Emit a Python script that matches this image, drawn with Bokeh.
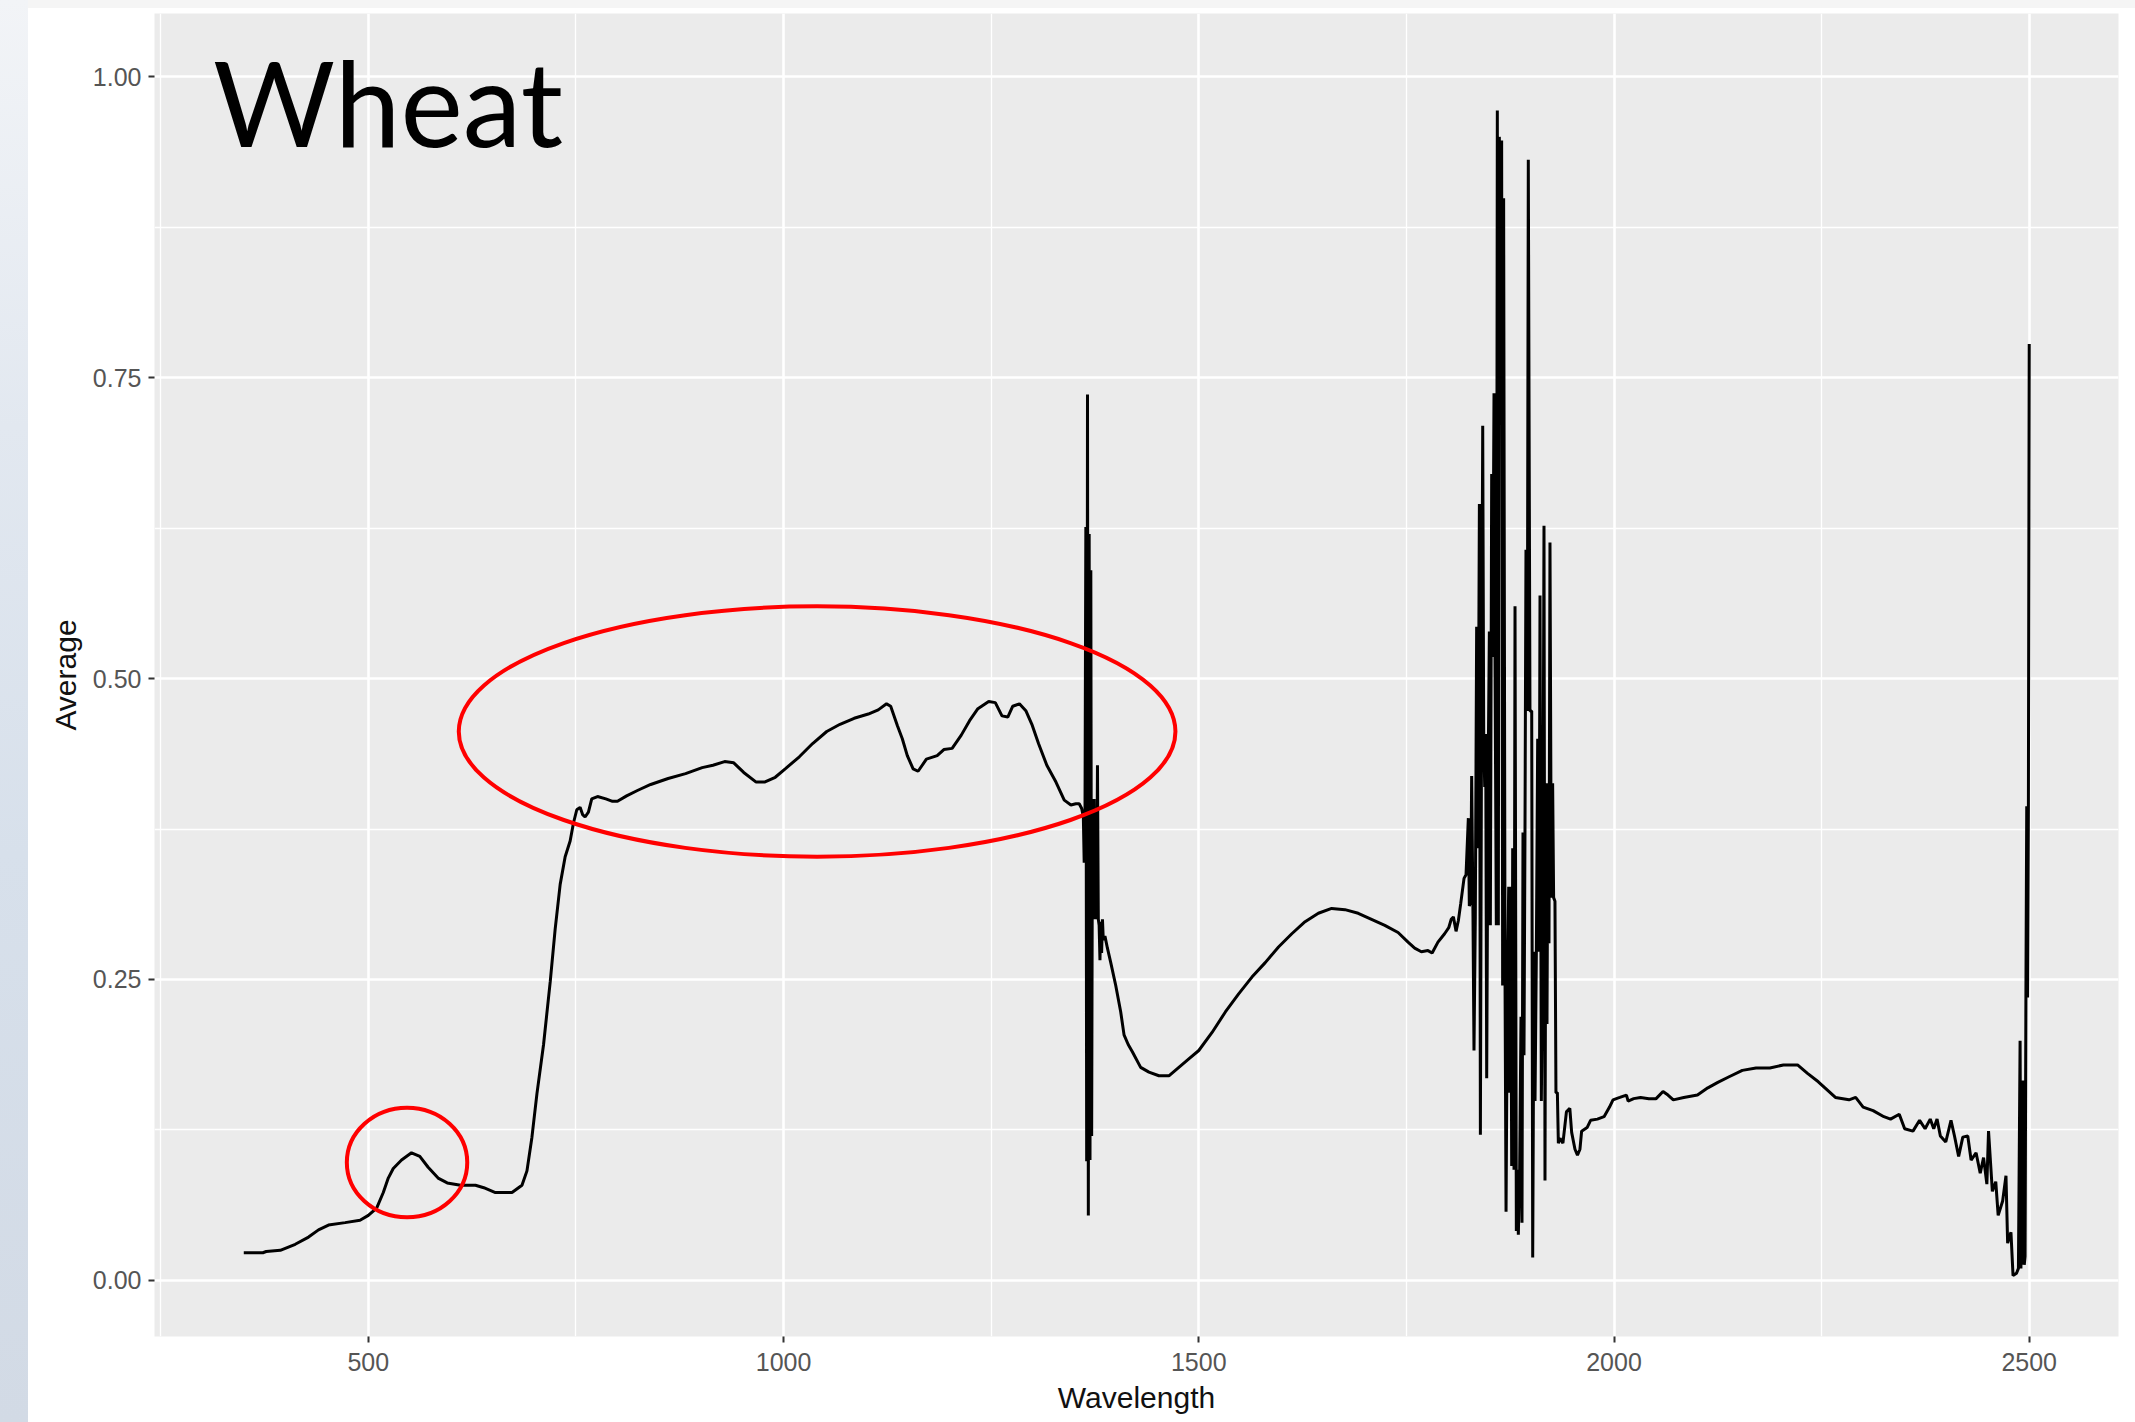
from bokeh.plotting import figure
from bokeh.models import FixedTicker, Range1d, Label, Div
from bokeh.layouts import row, column
from bokeh.embed import file_html
from bokeh.resources import INLINE

# ---------------- data ----------------
WAVELENGTH = [
    350, 373, 377, 394, 412, 428, 440, 452, 472, 490, 500, 510, 518, 524, 530, 540,
    552, 562, 572, 584, 595, 611, 629, 639, 653, 673, 685, 691, 697, 703, 711, 719,
    725, 731, 737, 743, 747, 751, 755, 758, 761, 765, 769, 776, 786, 794, 800, 811,
    824, 840, 861, 882, 902, 915, 929, 940, 952, 967, 977, 990, 1002, 1019, 1035, 1052,
    1068, 1085, 1102, 1114, 1124, 1129, 1137, 1143, 1149, 1156, 1162, 1172, 1185, 1193, 1203, 1214,
    1224, 1234, 1247, 1255, 1263, 1270, 1276, 1284, 1292, 1299, 1307, 1317, 1328, 1338, 1346, 1352,
    1356, 1359, 1361, 1362, 1363, 1364, 1365, 1366, 1367, 1368, 1369, 1370, 1371, 1372, 1373, 1374,
    1375, 1376, 1377, 1378, 1379, 1380, 1381, 1382, 1383, 1384, 1385, 1387, 1390, 1394, 1400, 1406,
    1410, 1415, 1420, 1430, 1440, 1452, 1464, 1476, 1488, 1500, 1516, 1532, 1548, 1564, 1580, 1596,
    1612, 1628, 1644, 1660, 1676, 1692, 1708, 1724, 1740, 1752, 1760, 1768, 1776, 1781, 1788, 1796,
    1801, 1804, 1806.6, 1809.8, 1812.6, 1815.4, 1819.4, 1821.8, 1824.6, 1825.8, 1827.4, 1828.6, 1830.2, 1831.4, 1833.0, 1834.6,
    1836.2, 1837.9, 1839.1, 1840.3, 1841.9, 1843.1, 1844.3, 1845.5, 1846.7, 1848.3, 1849.9, 1851.1, 1852.7, 1853.9, 1855.5, 1856.7,
    1858.3, 1859.5, 1860.7, 1861.9, 1863.1, 1864.7, 1865.9, 1867.1, 1868.8, 1870.0, 1871.6, 1873.2, 1874.4, 1875.6, 1876.8, 1878.0,
    1879.6, 1880.8, 1882.4, 1883.6, 1884.8, 1886.4, 1888.0, 1889.2, 1890.4, 1891.6, 1892.8, 1894.0, 1895.6, 1896.8, 1898.8, 1900.9,
    1902.1, 1903.7, 1904.9, 1906.5, 1908.1, 1909.7, 1910.9, 1912.5, 1914.1, 1915.7, 1916.9, 1918.1, 1919.3, 1920.5, 1921.7, 1922.9,
    1924.5, 1926.1, 1927.3, 1928.9, 1930.1, 1931.8, 1933.0, 1935, 1938.5, 1942.7, 1946.8, 1949, 1953, 1956, 1959, 1961,
    1967.6, 1971.8, 1980, 1988, 1994.6, 1998.8, 2007, 2015, 2017, 2023.7, 2032, 2042, 2050.7, 2059, 2065, 2071.4,
    2084, 2100.5, 2113, 2125, 2138, 2154.5, 2171, 2187.7, 2204, 2221, 2233, 2246, 2254, 2266.6, 2283, 2291,
    2300, 2312, 2325, 2333, 2343.5, 2350, 2360, 2368, 2374.6, 2380.8, 2385, 2389, 2393, 2399.5, 2405.8, 2410,
    2415, 2420, 2426, 2430, 2436, 2441, 2445, 2449, 2451, 2455.6, 2459.7, 2462.6, 2468, 2472, 2474, 2478,
    2480.5, 2484.7, 2487, 2489, 2490, 2491, 2492, 2493, 2494, 2495, 2496, 2497, 2498, 2499, 2500,
]
AVERAGE = [
    0.023, 0.023, 0.024, 0.025, 0.030, 0.036, 0.042, 0.046, 0.048, 0.050, 0.054, 0.060, 0.073, 0.085, 0.093, 0.100,
    0.106, 0.103, 0.094, 0.085, 0.081, 0.079, 0.079, 0.077, 0.073, 0.073, 0.079, 0.091, 0.119, 0.155, 0.196, 0.248,
    0.292, 0.329, 0.352, 0.365, 0.380, 0.391, 0.393, 0.387, 0.385, 0.389, 0.400, 0.402, 0.400, 0.398, 0.398, 0.4025,
    0.407, 0.412, 0.417, 0.421, 0.426, 0.428, 0.431, 0.430, 0.422, 0.414, 0.414, 0.418, 0.425, 0.435, 0.446, 0.456,
    0.462, 0.467, 0.4705, 0.474, 0.479, 0.477, 0.461, 0.450, 0.436, 0.425, 0.423, 0.433, 0.436, 0.441, 0.442, 0.453,
    0.465, 0.475, 0.481, 0.480, 0.469, 0.468, 0.477, 0.479, 0.473, 0.462, 0.446, 0.428, 0.414, 0.399, 0.395, 0.396,
    0.396, 0.392, 0.385, 0.347, 0.392, 0.626, 0.099, 0.736, 0.054, 0.620, 0.100, 0.590, 0.120, 0.400, 0.350, 0.400,
    0.300, 0.390, 0.300, 0.428, 0.300, 0.295, 0.266, 0.298, 0.272, 0.300, 0.283, 0.286, 0.276, 0.264, 0.245, 0.223,
    0.204, 0.196, 0.190, 0.177, 0.173, 0.170, 0.170, 0.177, 0.184, 0.191, 0.206, 0.223, 0.238, 0.252, 0.264, 0.277,
    0.288, 0.298, 0.305, 0.309, 0.308, 0.305, 0.300, 0.295, 0.289, 0.281, 0.276, 0.273, 0.274, 0.272, 0.281, 0.288,
    0.293, 0.300, 0.302, 0.290, 0.299, 0.313, 0.334, 0.337, 0.384, 0.311, 0.315, 0.419, 0.302, 0.191, 0.302, 0.543,
    0.359, 0.645, 0.121, 0.416, 0.710, 0.454, 0.410, 0.454, 0.168, 0.410, 0.539, 0.295, 0.670, 0.518, 0.737, 0.518,
    0.295, 0.972, 0.295, 0.950, 0.899, 0.947, 0.245, 0.899, 0.245, 0.057, 0.245, 0.327, 0.156, 0.327, 0.095, 0.359,
    0.092, 0.560, 0.041, 0.092, 0.038, 0.092, 0.219, 0.048, 0.372, 0.187, 0.372, 0.607, 0.473, 0.931, 0.473, 0.473,
    0.019, 0.273, 0.149, 0.273, 0.450, 0.273, 0.569, 0.149, 0.276, 0.627, 0.083, 0.413, 0.213, 0.413, 0.280, 0.613,
    0.318, 0.413, 0.318, 0.315, 0.156, 0.156, 0.114, 0.118, 0.114, 0.140, 0.143, 0.123, 0.109, 0.104, 0.109, 0.124,
    0.127, 0.133, 0.134, 0.136, 0.144, 0.150, 0.152, 0.154, 0.149, 0.151, 0.152, 0.151, 0.151, 0.157, 0.154, 0.150,
    0.152, 0.154, 0.160, 0.1645, 0.169, 0.1745, 0.1765, 0.1765, 0.179, 0.179, 0.172, 0.165, 0.160, 0.152, 0.150, 0.152,
    0.144, 0.141, 0.136, 0.134, 0.138, 0.126, 0.124, 0.133, 0.126, 0.134, 0.126, 0.134, 0.120, 0.115, 0.133, 0.120,
    0.103, 0.119, 0.120, 0.100, 0.106, 0.089, 0.102, 0.080, 0.124, 0.074, 0.082, 0.054, 0.066, 0.087, 0.031, 0.040,
    0.004, 0.006, 0.010, 0.199, 0.010, 0.166, 0.013, 0.166, 0.013, 0.020, 0.235, 0.394, 0.235, 0.394, 0.778,
]

X_TICKS = [500, 1000, 1500, 2000, 2500]
X_MINOR = [250, 750, 1250, 1750, 2250]
Y_TICKS = [0.0, 0.25, 0.5, 0.75, 1.0]
Y_MINOR = [0.125, 0.375, 0.625, 0.875]
Y_LABELS = ["0.00", "0.25", "0.50", "0.75", "1.00"]

# red highlight ellipses (centre / size in data units)
HL_X = [1040.4, 546.6]
HL_Y = [0.456, 0.098]
HL_W = [863.0, 145.0]
HL_H = [0.208, 0.091]

TITLE_TEXT = "Wheat"
X_TITLE = "Wavelength"
Y_TITLE = "Average"

# ---------------- figure ----------------
p = figure(
    frame_width=1964, frame_height=1323,
    min_border_left=126, min_border_right=17, min_border_top=5, min_border_bottom=86,
    x_range=Range1d(242.5, 2607.5), y_range=Range1d(-0.0466, 1.0525),
    output_backend="svg", toolbar_location=None,
)
p.background_fill_color = "#ebebeb"
p.border_fill_color = "white"
p.outline_line_color = None

p.xaxis.ticker = FixedTicker(ticks=X_TICKS, minor_ticks=X_MINOR)
p.yaxis.ticker = FixedTicker(ticks=Y_TICKS, minor_ticks=Y_MINOR)
p.yaxis.major_label_overrides = {t: l for t, l in zip(Y_TICKS, Y_LABELS)}

for ax in (p.xaxis, p.yaxis):
    ax.axis_line_color = None
    ax.major_tick_line_color = "#333333"
    ax.major_tick_line_width = 2
    ax.major_tick_out = 6
    ax.major_tick_in = 0
    ax.minor_tick_line_color = None
    ax.major_label_text_font = "Liberation Sans"
    ax.major_label_text_font_size = "25px"
    ax.major_label_text_color = "#555555"
    ax.major_label_standoff = 7
    ax.axis_label_text_font = "Liberation Sans"
    ax.axis_label_text_font_size = "30px"
    ax.axis_label_text_font_style = "normal"
    ax.axis_label_text_color = "#111111"
    ax.axis_label_standoff = 8

p.xaxis.major_label_standoff = 10
p.xaxis.axis_label_standoff = 7
p.xaxis.axis_label = X_TITLE
p.yaxis.axis_label = Y_TITLE

p.grid.grid_line_color = "white"
p.grid.grid_line_width = 2.6
p.grid.minor_grid_line_color = "white"
p.grid.minor_grid_line_width = 1.3

p.line(WAVELENGTH, AVERAGE, line_color="black", line_width=3)

p.ellipse(x=HL_X, y=HL_Y, width=HL_W, height=HL_H,
          fill_color=None, line_color="#ff0000", line_width=4)

p.add_layout(Label(x=313, y=0.979, text=TITLE_TEXT, text_font="Lato",
                   text_font_size="118px", text_color="black",
                   text_align="left", text_baseline="alphabetic"))

strip = Div(text="", width=28, height=1422, margin=0,
            styles={"background": "linear-gradient(to bottom, #f2f4f7 0%, #e2e8f0 30%, #d7e0eb 60%, #d2dae5 100%)"})
band = Div(text="", width=2107, height=8, margin=0, styles={"background-color": "#f5f5f5"})

layout = row(strip, column(band, p, spacing=0), spacing=0)

html = file_html(layout, INLINE)
html = html.replace("</head>", "<style>html, body { margin: 0; padding: 0; }</style></head>", 1)
open("out.html", "w").write(html)
